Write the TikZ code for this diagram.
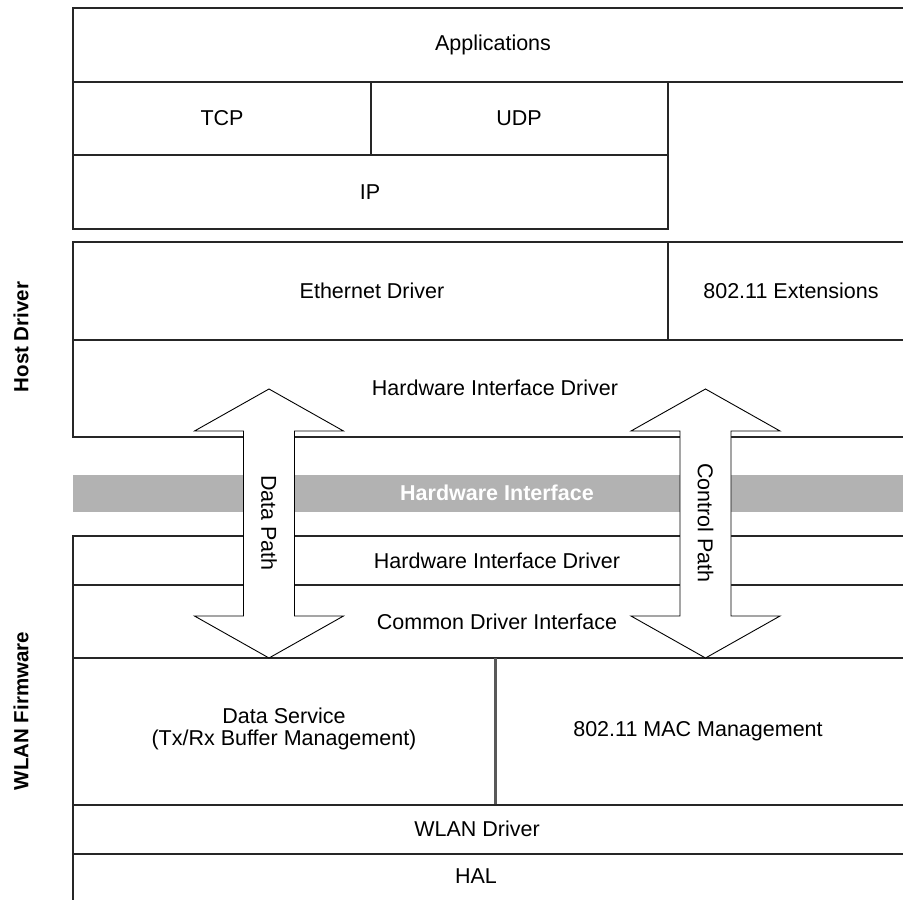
\documentclass[tikz,border=0pt]{standalone}
\usepackage{fontspec}
\setmainfont{Liberation Sans}
\begin{document}
\begin{tikzpicture}[x=1pt,y=-1pt, line join=miter,
  layer/.style={draw=black!85, line width=1.4pt},
  divider/.style={draw=black!65, line width=3pt},
  lbl/.style={font=\fontsize{21.5}{22.5}\selectfont, text=black, inner sep=0pt, align=center},
  side/.style={font=\fontsize{20.5}{24}\selectfont\bfseries, rotate=90, inner sep=0pt},
  band/.style={fill=black!30, draw=none},
  bandtext/.style={font=\fontsize{21.5}{25.5}\selectfont\bfseries, text=white, inner sep=0pt},
  bigarrow/.style={draw=black, fill=white, line width=0.9pt},
  arrowtext/.style={font=\fontsize{21.5}{25.5}\selectfont, rotate=-90, inner sep=0pt},
]
\useasboundingbox (0,0) rectangle (903,900);
\begin{scope}
\clip (0,0) rectangle (903,900);
% upper protocol stack
\draw[layer] (73,8) rectangle (914,82);
\draw[layer] (73,82) rectangle (371,155);
\draw[layer] (371,82) rectangle (668,155);
\draw[layer] (73,155) rectangle (668,229);
% host driver
\draw[layer] (73,242) rectangle (668,340);
\draw[layer] (668,242) rectangle (914,340);
\draw[layer] (73,340) rectangle (914,437);
% hardware interface band
\fill[band] (73,475) rectangle (914,512);
% firmware
\draw[layer] (73,536) rectangle (914,585);
\draw[layer] (73,585) rectangle (914,658);
\draw[layer] (73,658) rectangle (914,805);
\draw[divider] (495.5,658) -- (495.5,805);
\draw[layer] (73,805) rectangle (914,854);
\draw[layer] (73,854) rectangle (914,910);
\end{scope}

% labels
\node[lbl] (app) at (493,45) {Applications};
\node[lbl] (tcp) at (222,118) {TCP};
\node[lbl] (udp) at (519,118) {UDP};
\node[lbl] (ip) at (370,192) {IP};
\node[lbl] (eth) at (372,291) {Ethernet Driver};
\node[lbl] (ext) at (791,291) {802.11 Extensions};
\node[lbl] (hhid) at (495,388) {Hardware Interface Driver};
\node[bandtext] (hwi) at (497,493) {Hardware Interface};
\node[lbl] (fhid) at (497,561) {Hardware Interface Driver};
\node[lbl] (cdi) at (497,622) {Common Driver Interface};
\node[lbl] (ds) at (284,729) {Data Service\\(Tx/Rx Buffer Management)};
\node[lbl] (mac) at (698,731) {802.11 MAC Management};
\node[lbl] (wlan) at (477,829) {WLAN Driver};
\node[lbl] (hal) at (476,876) {HAL};

\node[side] (host) at (21,337) {Host Driver};
\node[side] (fw) at (21,711) {WLAN Firmware};

% double-headed block arrows
\foreach \cx/\nm/\txt in {269/dp/Data Path, 705.5/cp/Control Path}{
  \draw[bigarrow] (\cx,389) -- (\cx+74.5,431) -- (\cx+25.5,431) -- (\cx+25.5,616)
     -- (\cx+74.5,616) -- (\cx,658) -- (\cx-74.5,616) -- (\cx-25.5,616)
     -- (\cx-25.5,431) -- (\cx-74.5,431) -- cycle;
  \node[arrowtext] (\nm) at (\cx,523) {\txt};
}
\end{tikzpicture}
\end{document}
